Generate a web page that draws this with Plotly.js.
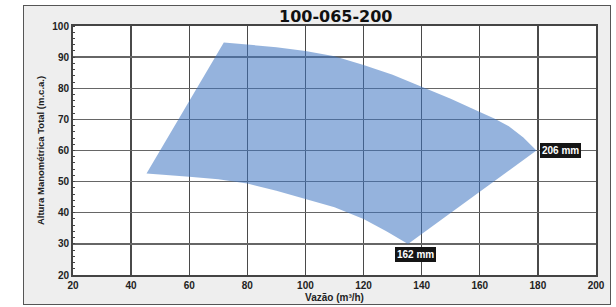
<!DOCTYPE html>
<html><head><meta charset="utf-8">
<script src="https://cdn.plot.ly/plotly-3.0.1.min.js"></script>
<style>
html,body{margin:0;padding:0;background:#fff;}
#frame{position:absolute;left:23px;top:5px;width:586px;height:298px;border:1px solid #555;background:#eeeeee;}
#chart{width:586px;height:298px;}
</style></head>
<body>
<div id="frame"><div id="chart"></div></div>
<script>
// Operating envelope of pump 100-065-200 (flow m3/h, head m.c.a.)
var upperFlow = [71.9, 80, 90, 100, 110, 120, 130, 140, 150, 160, 165, 170, 175, 179.5];
var upperHead = [94.7, 94.0, 93.2, 92.0, 90.3, 87.5, 84.3, 80.5, 76.6, 72.4, 70.3, 67.8, 64.2, 60.0];
var lowerFlow = [135.3, 128, 120, 110, 100, 90, 80, 70, 60, 45.3];
var lowerHead = [30.0, 34.0, 38.0, 41.8, 44.5, 47.1, 49.4, 50.8, 51.6, 52.6];
var impellerLabels = ['206 mm', '162 mm'];
var xTicks = [20, 40, 60, 80, 100, 120, 140, 160, 180, 200];
var yTicks = [20, 30, 40, 50, 60, 70, 80, 90, 100];

var polyX = upperFlow.concat(lowerFlow, [upperFlow[0]]);
var polyY = upperHead.concat(lowerHead, [upperHead[0]]);

var F = '"Liberation Sans Narrow", "Liberation Sans", Arial, sans-serif';
var trace = {
  x: polyX, y: polyY, type: 'scatter', mode: 'lines',
  fill: 'toself', fillcolor: 'rgba(62,117,193,0.55)',
  line: {width: 0, color: 'rgba(0,0,0,0)'}, hoverinfo: 'skip', showlegend: false
};
var labelFont = {family: F, size: 10, color: '#fff', weight: 'bold'};
var layout = {
  width: 586, height: 298,
  margin: {l: 49, r: 14, t: 20, b: 29},
  paper_bgcolor: '#eeeeee', plot_bgcolor: '#ffffff',
  title: {text: '<b>100-065-200</b>', x: 0.532, xanchor: 'center', y: 0.965, yanchor: 'middle',
          font: {family: '"DejaVu Sans", sans-serif', size: 16, color: '#111'}},
  xaxis: {
    range: [20, 200], tickvals: xTicks, ticktext: xTicks.map(String),
    showgrid: true, gridcolor: '#4a4a4a', gridwidth: 1.3,
    showline: true, mirror: true, linecolor: '#444', linewidth: 2,
    ticks: '', zeroline: false,
    tickfont: {family: F, size: 10, color: '#222', weight: 'bold'},
    title: {text: '<b>Vazão (m³/h)</b>', standoff: 4, font: {family: F, size: 10, color: '#222'}}
  },
  yaxis: {
    range: [20, 100], tickvals: yTicks, ticktext: yTicks.map(String),
    showgrid: true, gridcolor: '#666', gridwidth: 1.3,
    showline: true, mirror: true, linecolor: '#444', linewidth: 2,
    ticks: '', zeroline: false,
    minor: {dtick: 2, ticks: 'inside', ticklen: 2, tickcolor: '#444', tickwidth: 1, showgrid: false},
    tickfont: {family: F, size: 10, color: '#222', weight: 'bold'},
    title: {text: '<b>Altura Manométrica Total (m.c.a.)</b>', standoff: 6, font: {family: F, size: 9.5, color: '#222'}}
  },
  annotations: [
    {x: upperFlow[upperFlow.length - 1], y: upperHead[upperHead.length - 1], text: '<b>' + impellerLabels[0] + '</b>',
     showarrow: false, xanchor: 'left', yanchor: 'middle', xshift: 4, yshift: 0,
     bgcolor: '#151515', bordercolor: '#151515', borderpad: 1, font: labelFont},
    {x: lowerFlow[0], y: lowerHead[0], text: '<b>' + impellerLabels[1] + '</b>',
     showarrow: false, xanchor: 'center', yanchor: 'top', xshift: 7, yshift: -3,
     bgcolor: '#151515', bordercolor: '#151515', borderpad: 1, font: labelFont}
  ]
};
Plotly.newPlot('chart', [trace], layout, {displayModeBar: false, staticPlot: true});
</script>
</body></html>
